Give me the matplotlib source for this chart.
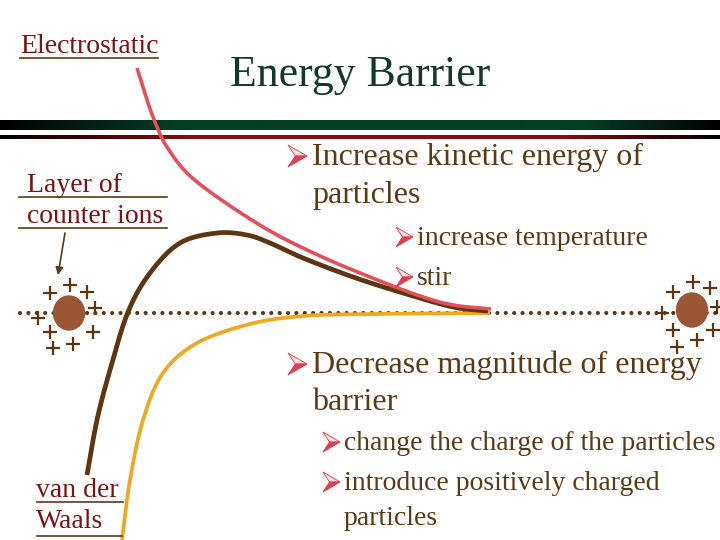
import numpy as np
import matplotlib
matplotlib.use('Agg')
import matplotlib.pyplot as plt
from matplotlib.patches import Ellipse, Polygon
from matplotlib.colors import to_rgb

# ---------------- data (slide units: x = separation, y = energy, pixels) -------------
electro_x = [137, 147, 157, 167, 187, 220, 270, 320, 370, 420, 453, 491]
electro_y = [68, 100, 127, 147, 173, 199, 231, 256, 277, 296, 305, 309]

total_x = [87, 97, 110, 128, 150, 180, 217, 247, 270, 303, 353, 403, 453, 488]
total_y = [475, 420, 370, 312, 273, 243, 233, 235, 243, 258, 277, 293, 307, 311]

vdw_x = [122, 130, 143, 163, 197, 250, 303, 370, 490]
vdw_y = [540, 480, 420, 373, 343, 324, 316, 314, 313]

zero_level = 313

left_particle = (69, 313)
right_particle = (692, 310)
left_plus_x = [70, 50, 87, 95, 38, 50, 93, 73, 53]
left_plus_y = [285, 293, 292, 308, 318, 332, 332, 344, 348]
right_plus_x = [693, 673, 710, 717, 662, 673, 713, 697, 677]
right_plus_y = [282, 292, 288, 307, 313, 330, 330, 340, 347]

title = "Energy Barrier"
labels = ["Electrostatic", "Layer of", "counter ions", "van der", "Waals"]
bullets_l1 = ["Increase kinetic energy of", "Decrease magnitude of energy"]
bullets_l1_cont = ["particles", "barrier"]
bullets_l2a = ["increase temperature", "stir"]
bullets_l2b = ["change the charge of the particles", "introduce positively charged"]
bullets_l2b_cont = ["particles"]

# ---------------- styles ----------------
RED = '#e2505a'
BROWN = '#5e3511'
YELLOW = '#f0a820'
TXT = '#5c3a14'
LABEL = '#7d1212'
TITLE = '#123a26'
ARROW = '#e03c4a'
SERIF = ['Liberation Serif', 'DejaVu Serif']


def smooth(xs, ys, n=24):
    P = np.column_stack([xs, ys]).astype(float)
    P = np.vstack([2 * P[0] - P[1], P, 2 * P[-1] - P[-2]])
    out = []
    for i in range(1, len(P) - 2):
        p0, p1, p2, p3 = P[i - 1], P[i], P[i + 1], P[i + 2]
        t = np.linspace(0, 1, n, endpoint=False)[:, None]
        out.append(0.5 * ((2 * p1) + (-p0 + p2) * t
                          + (2 * p0 - 5 * p1 + 4 * p2 - p3) * t ** 2
                          + (-p0 + 3 * p1 - 3 * p2 + p3) * t ** 3))
    out.append(P[-2][None, :])
    return np.vstack(out)


fig = plt.figure(figsize=(7.2, 5.4), dpi=100)
ax = fig.add_axes([0, 0, 1, 1])
fig.patch.set_facecolor('white')


def gradient_bar(y0, y1, mid_color, x_in, x_out):
    xs = np.linspace(0, 720, 721)
    w = np.clip(np.minimum(xs / x_in, (720 - xs) / (720 - x_out)), 0, 1)
    c = np.array(to_rgb(mid_color))
    img = (w[:, None] * c[None, :])[None, :, :]
    ax.imshow(img, extent=(0, 720, y1, y0), aspect='auto', zorder=1,
              interpolation='bilinear')


gradient_bar(120, 130, '#053c24', 170, 590)
gradient_bar(135, 139, '#8c0c0c', 200, 560)
ax.set_xlim(0, 720)
ax.set_ylim(540, 0)
ax.axis('off')

# title
ax.text(230, 86, title, fontsize=31.5, color=TITLE, family=SERIF, va='baseline', zorder=5)

# labels with underlines
lab_pos = [(20, 53, 20, 158, 58), (27, 192, 19, 167, 197), (27, 223, 19, 167, 228),
           (36, 497, 37, 123, 502), (36, 528, 37, 122, 536)]
for s, (x, y, ux0, ux1, uy) in zip(labels, lab_pos):
    ax.text(x, y, s, fontsize=20, color=LABEL, family=SERIF, va='baseline', zorder=5)
    ax.plot([ux0, ux1], [uy, uy], color=TXT, lw=1.2, zorder=5)

# arrow from label to layer
ax.annotate('', xy=(58, 275), xytext=(65, 233),
            arrowprops=dict(arrowstyle='-|>', color=TXT, lw=1.2, mutation_scale=11,
                            shrinkA=0, shrinkB=0), zorder=5)

# dotted zero line
ax.plot([20, 720], [zero_level, zero_level], color=BROWN, lw=3.0,
        linestyle=(0, (0.01, 2.0)), dash_capstyle='round', zorder=2)

# curves
for xs, ys, col, lw in [(vdw_x, vdw_y, YELLOW, 2.7), (total_x, total_y, BROWN, 3.4),
                        (electro_x, electro_y, RED, 2.6)]:
    pts = smooth(xs, ys)
    ax.plot(pts[:, 0], pts[:, 1], color=col, lw=lw, solid_capstyle='butt', zorder=3)

# particles
for (cx, cy), px, py in [(left_particle, left_plus_x, left_plus_y),
                         (right_particle, right_plus_x, right_plus_y)]:
    ax.add_patch(Ellipse((cx, cy), 31, 34, color='#9a5534', zorder=4))
    ax.plot(px, py, linestyle='none', marker='+', markersize=10, mew=1.6,
            color=BROWN, zorder=4)


# bullets: 3D arrowhead (upper half light, lower half solid)
def bullet(x, base, w, h):
    top, bot = base - h + 2, base + 2
    mid = (top + bot) / 2
    notch = x + w * 0.38
    ax.add_patch(Polygon([(x, top), (x + w, mid), (notch, mid)], closed=True,
                         facecolor='#fbe3e5', edgecolor=ARROW, lw=0.6, zorder=5))
    ax.add_patch(Polygon([(notch, mid), (x + w, mid), (x, bot)], closed=True,
                         facecolor=ARROW, edgecolor=ARROW, lw=0.6, zorder=5))


bullet(288, 165, 19, 22)
ax.text(312, 165, bullets_l1[0], fontsize=23, color=TXT, family=SERIF, va='baseline', zorder=5)
ax.text(312, 203, bullets_l1_cont[0], fontsize=23, color=TXT, family=SERIF, va='baseline', zorder=5)
for s, y in zip(bullets_l2a, [245, 285]):
    bullet(396, y, 17, 20)
    ax.text(417, y, s, fontsize=20, color=TXT, family=SERIF, va='baseline', zorder=5)

bullet(288, 373, 19, 22)
ax.text(312, 373, bullets_l1[1], fontsize=23, color=TXT, family=SERIF, va='baseline', zorder=5)
ax.text(312, 410, bullets_l1_cont[1], fontsize=23, color=TXT, family=SERIF, va='baseline', zorder=5)
for s, y in zip(bullets_l2b, [450, 490]):
    bullet(323, y, 17, 20)
    ax.text(344, y, s, fontsize=20, color=TXT, family=SERIF, va='baseline', zorder=5)
ax.text(344, 525, bullets_l2b_cont[0], fontsize=20, color=TXT, family=SERIF, va='baseline', zorder=5)

fig.savefig('out.png', dpi=100, facecolor='white')
